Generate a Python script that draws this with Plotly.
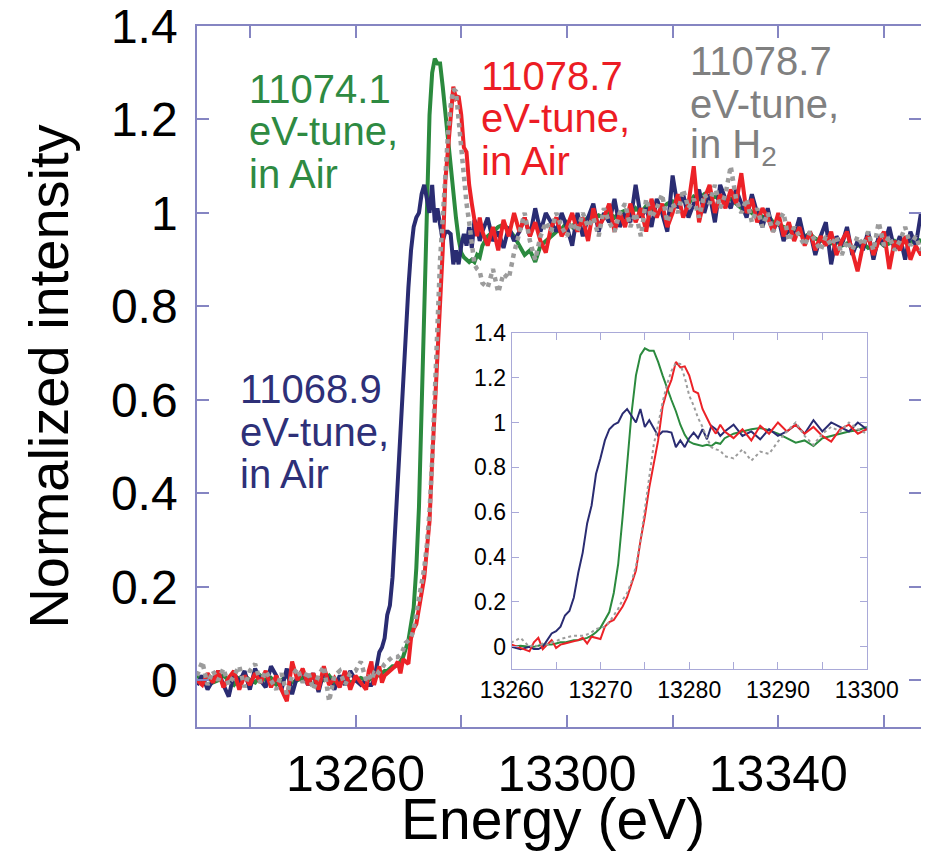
import plotly.graph_objects as go

# ---------------- data ----------------
energy_pre = [13230, 13231, 13232, 13233, 13234, 13235, 13236, 13237, 13238, 13239,
              13240, 13241, 13242, 13243, 13244, 13245, 13246, 13247, 13248, 13249,
              13250, 13251, 13252, 13253, 13254, 13255, 13256, 13257, 13258, 13259,
              13260, 13261, 13262]
energy_edge = [13262.5, 13263, 13263.5, 13264, 13264.5, 13265, 13265.5, 13266, 13266.5, 13267,
               13267.5, 13268, 13268.5, 13269, 13269.5, 13270, 13270.5, 13271, 13271.5, 13272,
               13272.5, 13273, 13273.5, 13274, 13274.5, 13275, 13275.5, 13276, 13276.5, 13277,
               13277.5, 13278, 13278.5, 13279, 13279.5, 13280, 13280.5, 13281, 13281.5, 13282,
               13282.5, 13283, 13283.5, 13284]
energy_post = [13285, 13286, 13287, 13288, 13289, 13290, 13291, 13292, 13293, 13294,
               13295, 13296, 13297, 13298, 13299, 13300, 13301, 13302, 13303, 13304,
               13305, 13306, 13307, 13308, 13309, 13310, 13311, 13312, 13313, 13314,
               13315, 13316, 13317, 13318, 13319, 13320, 13321, 13322, 13323, 13324,
               13325, 13326, 13327, 13328, 13329, 13330, 13331, 13332, 13333, 13334,
               13335, 13336, 13337, 13338, 13339, 13340, 13341, 13342, 13343, 13344,
               13345, 13346, 13347, 13348, 13349, 13350, 13351, 13352, 13353, 13354,
               13355, 13356, 13357, 13358, 13359, 13360, 13361, 13362, 13363, 13364,
               13365, 13366, 13367, 13368]

# 11068.9 eV-tune, in Air (navy)
navy_pre = [-0.01, 0.01, -0.02, 0.00, 0.02, -0.01, -0.035, 0.015, -0.005, 0.02,
            -0.02, 0.025, 0.0, -0.015, 0.03, 0.01, -0.02, 0.025, -0.03, 0.01,
            0.02, -0.01, 0.015, -0.025, 0.02, 0.0, -0.02, 0.01, -0.01, 0.02,
            0.0, -0.01, 0.0]
navy_edge = [-0.01, -0.01, 0.0, 0.03, 0.06, 0.07, 0.09, 0.14, 0.16, 0.22,
             0.33, 0.42, 0.55, 0.63, 0.77, 0.84, 0.92, 0.97, 0.99, 1.0,
             1.04, 1.06, 1.03, 1.0, 1.06, 0.98, 1.01, 0.975, 0.94, 0.96,
             0.96, 0.955, 0.89, 0.92, 0.89, 0.93, 0.955, 0.93, 0.97, 0.925,
             0.985, 0.97, 0.94, 0.96]
navy_post = [0.99, 0.94, 0.96, 0.925, 0.97, 0.94, 0.96, 0.99, 0.95, 1.01,
             0.96, 1.0, 0.98, 0.96, 1.0, 0.97, 0.93, 1.0, 0.95, 0.99,
             1.02, 0.96, 1.0, 0.98, 1.03, 0.97, 1.0, 0.98, 1.06, 0.99,
             1.01, 0.97, 1.03, 1.0, 0.96, 1.08, 1.01, 1.04, 0.99, 1.02,
             1.05, 1.0, 1.04, 0.98, 1.06, 1.03, 1.01, 1.05, 1.02, 0.99,
             1.04, 1.0, 0.97, 1.01, 0.96, 0.99, 0.94, 0.97, 0.95, 0.99,
             0.94, 0.96, 0.91, 0.95, 0.98, 0.89, 0.95, 0.93, 0.97, 0.91,
             0.94, 0.92, 0.96, 0.90, 0.95, 0.93, 0.97, 0.92, 0.95, 0.90,
             0.96, 0.93, 1.0, 0.95]

# 11074.1 eV-tune, in Air (green)
green_pre = [0.01, 0.0, 0.01, -0.005, 0.0, 0.01, 0.0, -0.01, 0.005, 0.01,
             0.0, -0.005, 0.01, 0.0, 0.005, -0.01, 0.0, 0.01, -0.005, 0.0,
             0.005, 0.0, -0.01, 0.005, 0.0, 0.01, -0.005, 0.0, 0.005, -0.005,
             0.0, 0.005, 0.0]
green_edge = [0.0, 0.005, 0.01, 0.01, 0.01, 0.015, 0.02, 0.02, 0.025, 0.03,
              0.03, 0.035, 0.04, 0.05, 0.065, 0.085, 0.12, 0.155, 0.24, 0.37,
              0.58, 0.82, 1.04, 1.21, 1.30, 1.33, 1.32, 1.32, 1.27, 1.21,
              1.15, 1.10, 1.05, 0.99, 0.945, 0.915, 0.905, 0.9, 0.895, 0.9,
              0.895, 0.91, 0.905, 0.93]
green_post = [0.95, 0.96, 0.97, 0.975, 0.965, 0.95, 0.93, 0.91, 0.92, 0.895,
              0.93, 0.94, 0.95, 0.96, 0.965, 0.98, 0.97, 0.985, 0.98, 0.99,
              0.985, 0.995, 0.99, 1.0, 0.99, 1.0, 1.005, 0.995, 1.01, 1.0,
              1.015, 1.005, 1.02, 1.01, 1.02, 1.025, 1.015, 1.03, 1.02, 1.035,
              1.03, 1.04, 1.03, 1.035, 1.03, 1.025, 1.03, 1.02, 1.01, 1.015,
              1.0, 1.005, 0.99, 0.995, 0.98, 0.975, 0.97, 0.96, 0.965, 0.955,
              0.95, 0.955, 0.945, 0.94, 0.945, 0.935, 0.94, 0.93, 0.935, 0.925,
              0.93, 0.935, 0.925, 0.93, 0.94, 0.93, 0.935, 0.94, 0.93, 0.94,
              0.935, 0.945, 0.94, 0.945]

# 11078.7 eV-tune, in Air (red)
red_pre = [0.0, -0.01, 0.015, -0.005, 0.02, -0.015, 0.005, 0.02, -0.02, 0.01,
           -0.01, 0.015, -0.005, 0.02, -0.015, 0.01, -0.02, -0.045, 0.04, 0.0,
           0.025, -0.01, 0.015, -0.02, 0.03, -0.01, 0.005, -0.015, 0.02, -0.02,
           0.01, -0.005, -0.02]
red_edge = [0.02, 0.04, -0.01, 0.01, 0.03, -0.005, 0.01, 0.015, 0.02, 0.025,
            0.03, 0.04, 0.015, 0.045, 0.04, 0.035, 0.09, 0.11, 0.12, 0.15,
            0.18, 0.22, 0.28, 0.34, 0.47, 0.58, 0.71, 0.82, 0.92, 1.07,
            1.14, 1.19, 1.27, 1.245, 1.25, 1.21, 1.14, 1.13, 1.06, 1.02,
            0.98, 0.95, 0.99, 0.96]
red_post = [0.93, 0.97, 0.92, 0.985, 0.95, 1.0, 0.96, 0.99, 0.95, 0.98,
            0.94, 0.915, 0.97, 0.99, 0.95, 0.97, 1.0, 0.96, 0.99, 0.94,
            1.01, 0.97, 0.99, 1.02, 0.96, 1.0, 0.97, 1.02, 0.98, 1.01,
            0.96, 1.03, 0.99, 1.02, 0.97, 1.0, 1.04, 0.99, 1.02, 1.10,
            0.98, 1.03, 1.06, 1.0, 1.04, 1.01, 1.05, 1.02, 1.085, 1.0,
            1.03, 0.98, 1.01, 0.99, 0.96, 1.0, 0.95, 0.98, 0.94, 0.97,
            0.93, 0.96, 0.92, 0.95, 0.93, 0.96, 0.91, 0.94, 0.96, 0.92,
            0.875, 0.93, 0.95, 0.91, 0.94, 0.96, 0.88, 0.94, 0.92, 0.95,
            0.90, 0.93, 0.91, 0.93]

# 11078.7 eV-tune, in H2 (grey dotted)
grey_pre = [0.01, 0.04, -0.01, 0.02, 0.0, 0.025, -0.01, 0.01, 0.03, -0.015,
            0.02, 0.035, -0.005, 0.02, 0.0, -0.02, 0.015, -0.03, 0.01, 0.025,
            -0.005, 0.02, -0.02, 0.01, 0.03, -0.045, 0.01, 0.02, -0.01, 0.015,
            0.02, 0.04, 0.0]
grey_edge = [0.01, 0.0, 0.015, 0.01, 0.02, 0.025, 0.035, 0.04, 0.045, 0.05,
             0.05, 0.05, 0.055, 0.065, 0.08, 0.085, 0.09, 0.11, 0.14, 0.17,
             0.21, 0.24, 0.29, 0.36, 0.47, 0.61, 0.77, 0.9, 0.99, 1.09,
             1.17, 1.23, 1.265, 1.26, 1.20, 1.12, 1.075, 1.02, 0.98, 0.93,
             0.89, 0.88, 0.875, 0.85]
grey_post = [0.84, 0.88, 0.83, 0.87, 0.86, 0.915, 0.96, 1.0, 0.94, 0.9,
             0.95, 0.98, 0.96, 1.0, 0.97, 0.95, 0.98, 0.96, 1.0, 0.97,
             0.99, 0.95, 1.01, 0.98, 0.96, 1.0, 1.02, 0.97, 1.0, 0.95,
             1.03, 0.99, 1.01, 1.04, 0.98, 1.02, 1.0, 1.05, 1.01, 1.03,
             0.99, 1.04, 1.02, 1.06, 1.01, 1.04, 1.1, 1.03, 1.0, 1.03,
             0.98, 1.01, 0.97, 1.0, 0.96, 0.98, 1.0, 0.94, 0.97, 0.95,
             0.93, 0.96, 0.94, 0.92, 0.95, 0.93, 0.95, 0.91, 0.94, 0.92,
             0.95, 0.93, 0.96, 0.92, 0.98, 0.93, 0.95, 0.92, 0.94, 0.97,
             0.93, 0.95, 0.92, 0.94]

main_xtick_vals = [13240, 13260, 13280, 13300, 13320, 13340, 13360]
main_xtick_text = ["", "13260", "", "13300", "", "13340", ""]
ytick_vals = [0, 0.2, 0.4, 0.6, 0.8, 1.0, 1.2, 1.4]
ytick_text = ["0", "0.2", "0.4", "0.6", "0.8", "1", "1.2", "1.4"]
inset_xtick_vals = [13260, 13265, 13270, 13275, 13280, 13285, 13290, 13295, 13300]
inset_xtick_text = ["13260", "", "13270", "", "13280", "", "13290", "", "13300"]

energy = energy_pre + energy_edge + energy_post
series = [
    ("11074.1 eV-tune, in Air", green_pre + green_edge + green_post, "#2b8a3e", "solid"),
    ("11068.9 eV-tune, in Air", navy_pre + navy_edge + navy_post, "#2a2c72", "solid"),
    ("11078.7 eV-tune, in Air", red_pre + red_edge + red_post, "#ec2227", "solid"),
    ("11078.7 eV-tune, in H2", grey_pre + grey_edge + grey_post, "#9c9c9c", "dot"),
]
for _, ys, _, _ in series:
    assert len(ys) == len(energy), (len(ys), len(energy))

# ---------------- figure ----------------
# the page body has an 8px margin, so everything is shifted by OFF
OFF = 8
W, H = 913, 845
L, T = 197 - OFF, 26 - OFF
R, B = 0, H - (727 - OFF)
PW, PH = W - L - R, H - T - B
FONT = "Liberation Sans, Arial, Helvetica, sans-serif"
AXC = "#8585c2"
INC = "#a9a9d8"

def px_x(px):
    return (px - OFF - L) / PW

def px_y(py):
    return (H - B - (py - OFF)) / PH

fig = go.Figure()
for name, ys, col, dash in series:
    fig.add_trace(go.Scatter(x=energy, y=ys, mode="lines", name=name,
                             line=dict(color=col, width=4.5 if dash == "dot" else 4, dash=dash),
                             xaxis="x", yaxis="y", showlegend=False))
for name, ys, col, dash in series:
    fig.add_trace(go.Scatter(x=energy, y=ys, mode="lines", name=name,
                             line=dict(color=col, width=2, dash=dash),
                             xaxis="x2", yaxis="y2", showlegend=False))

common = dict(showgrid=False, zeroline=False, automargin=False, showline=True,
              mirror="ticks", ticks="inside", ticklabeloverflow="allow")

fig.update_layout(
    width=W, height=H, autosize=False, showlegend=False,
    margin=dict(l=L, r=R, t=T, b=B, pad=0),
    paper_bgcolor="white", plot_bgcolor="white",
    font=dict(family=FONT, color="black"),
    xaxis=dict(domain=[0, 1], range=[13230, 13367], anchor="y",
               tickvals=main_xtick_vals, ticktext=main_xtick_text,
               ticklen=12, tickwidth=1.5, tickcolor=AXC,
               linecolor=AXC, linewidth=1.5, ticklabelstandoff=2,
               tickfont=dict(size=50, family=FONT),
               **common),
    yaxis=dict(domain=[0, 1], range=[-0.1, 1.4], anchor="x",
               tickvals=ytick_vals, ticktext=ytick_text,
               ticklen=12, tickwidth=1.5, tickcolor=AXC,
               linecolor=AXC, linewidth=1.5, ticklabelstandoff=8,
               tickfont=dict(size=48, family=FONT),
               title=dict(text="Normalized intensity", font=dict(size=56, family=FONT), standoff=24),
               **common),
    xaxis2=dict(domain=[px_x(511.7), px_x(866.7)], range=[13260, 13300], anchor="y2",
                tickvals=inset_xtick_vals, ticktext=inset_xtick_text,
                ticklen=7, tickwidth=1, tickcolor=INC,
                linecolor=INC, linewidth=1,
                tickfont=dict(size=23, family=FONT), **common),
    yaxis2=dict(domain=[px_y(669.3), px_y(332.7)], range=[-0.1, 1.4], anchor="x2",
                tickvals=ytick_vals, ticktext=ytick_text,
                ticklen=7, tickwidth=1, tickcolor=INC,
                linecolor=INC, linewidth=1,
                tickfont=dict(size=23, family=FONT), **common),
)

# x-axis title, placed precisely (kept inside the page)
fig.add_annotation(text="Energy (eV)", xref="paper", yref="paper",
                   x=px_x(553), y=px_y(819), xanchor="center", yanchor="middle",
                   showarrow=False, font=dict(size=57, color="black", family=FONT))

labels = [
    (["11074.1", "eV-tune,", "in Air"], 250, [103, 145, 188], "#2e8a42"),
    (["11078.7", "eV-tune,", "in Air"], 482, [90, 132, 175], "#ec1c24"),
    (["11078.7", "eV-tune,", "in H<sub>2</sub>"], 691, [75, 118, 161], "#808080"),
    (["11068.9", "eV-tune,", "in Air"], 241, [403, 446, 488], "#2e3078"),
]
for lines, lx, bases, col in labels:
    for txt, by in zip(lines, bases):
        fig.add_annotation(text=txt, xref="paper", yref="paper",
                           x=px_x(lx - 3), y=px_y(by - 14),
                           xanchor="left", yanchor="middle", showarrow=False,
                           font=dict(size=40, color=col, family=FONT))

fig.write_html("out.html")
